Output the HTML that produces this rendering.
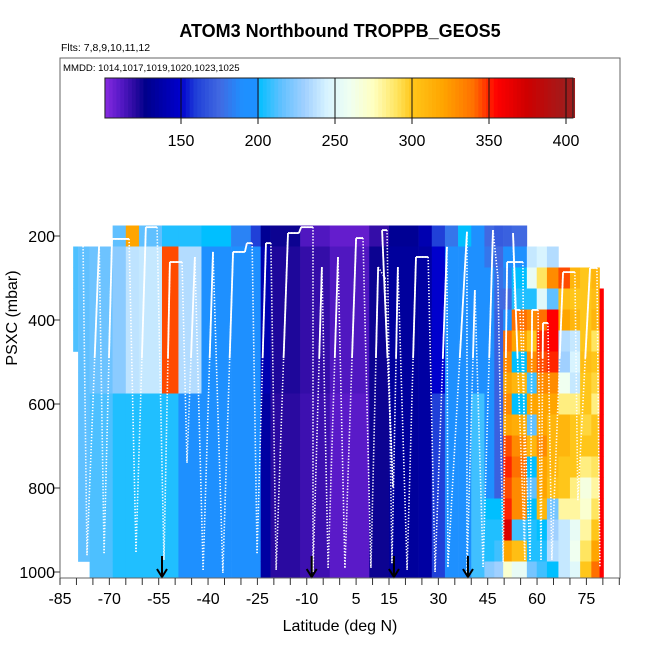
<!DOCTYPE html>
<html><head><meta charset="utf-8"><style>
html,body{margin:0;padding:0;background:#fff;}
svg{display:block;font-family:"Liberation Sans",sans-serif;}
</style></head><body>
<svg id="chart" width="650" height="650" viewBox="0 0 650 650" xmlns="http://www.w3.org/2000/svg">
<text x="340" y="37" text-anchor="middle" font-size="18" font-weight="bold">ATOM3 Northbound TROPPB_GEOS5</text>
<text x="61" y="51" font-size="10.5">Flts: 7,8,9,10,11,12</text>
<defs><clipPath id="plotclip"><rect x="60" y="58" width="560" height="520"/></clipPath>
<clipPath id="solidclip"><rect x="60" y="58" width="560" height="300"/></clipPath></defs>
<g id="cells" clip-path="url(#plotclip)"></g>
<g id="track" clip-path="url(#plotclip)"></g>
<g id="arrows"></g>
<rect x="60" y="58" width="560" height="520" fill="none" stroke="#666" stroke-width="1"/>
<text x="63" y="71" font-size="9.6">MMDD: 1014,1017,1019,1020,1023,1025</text>
<g id="cbar"></g>
<g id="axes"></g>
<text transform="translate(17,318) rotate(-90)" text-anchor="middle" font-size="16">PSXC (mbar)</text>
<text x="340" y="631" text-anchor="middle" font-size="16">Latitude (deg N)</text>
</svg>
<script>
// ---- data ----
const pLevels=[200,250,300,350,400,450,500,550,600,650,700,750,800,850,900,950,1000];
// left/middle segments
const segLat0=[-81,-79.5,-76,-69,-65,-61,-54,-49,-42,-33,-27,-24,-21,-12,-3,9,15,24,28,32,36,40];
const segLat1=[-79.5,-76,-69,-65,-61,-54,-49,-42,-33,-27,-24,-21,-12,-3,9,15,24,28,32,36,40,44];
const segPTop=[250,250,250,200,200,200,200,200,200,200,200,200,200,200,200,200,200,200,200,200,200,200];
const segPBot=[450,950,1000,1000,1000,1000,1000,1000,1000,1000,1000,1000,1000,1000,1000,1000,1000,1000,1000,1000,1000,1000];
const segTop=[210,215,218,215,320,215,205,205,200,185,160,130,125,112,108,118,130,140,160,180,200,190];
const segUpper=[212,215,218,225,238,240,345,235,197,195,192,140,122,118,112,125,133,135,150,190,195,195];
const segLower=[212,215,212,205,205,205,205,198,195,195,190,135,120,116,110,125,133,135,160,192,198,210];
// right cluster columns (full profiles, null = no data)
const colLat0=[44,47,49.7,52.3,56.9,59.9,63,66.5,70,73.1,76.5,79];
const colLat1=[47,49.7,52.3,56.9,59.9,63,66.5,70,73.1,76.5,79,80.2];
const colVals=[
[175,180,190,195,195,195,195,195,195,195,195,195,195,200,205,205,225],
[170,175,178,175,172,172,172,172,172,172,172,172,172,200,205,210,230],
[172,190,185,175,195,340,330,320,330,320,345,350,345,350,370,320,270],
[175,190,200,205,340,320,200,310,200,315,330,340,330,330,210,305,255],
[null,240,255,205,330,300,330,210,320,215,310,200,215,200,205,205,220],
[null,245,290,250,340,350,345,330,320,320,330,320,320,310,200,205,210],
[null,235,330,215,355,355,350,330,320,310,310,310,305,220,230,235,200],
[null,null,345,305,320,235,230,260,285,310,310,300,300,280,240,240,240],
[null,null,310,300,310,240,245,240,285,300,300,300,285,280,255,260,250],
[null,null,300,300,300,300,305,300,300,295,300,285,265,270,280,290,300],
[null,null,310,305,310,290,300,295,285,300,300,290,280,290,300,320,340],
[null,null,null,355,355,355,355,355,355,355,355,355,355,355,355,355,355]];
// flight track (lat, pressure)
const trackLat=[-80.4,-78.0,-76.8,-73.1,-71.6,-69.2,-64.0,-61.9,-58.9,-55.5,-53.4,-51.6,-47.9,-46.4,-44.0,-41.5,-38.5,-35.5,-32.4,-28.8,-28.2,-26.6,-25.1,-22.4,-20.9,-19.3,-15.7,-12.4,-11.7,-8.1,-8.1,-5.4,-3.5,-0.5,1.6,5.0,7.1,9.5,11.7,13.8,16.2,12.9,14.4,15.9,17.7,20.5,23.2,26.9,29.0,32.6,32.9,38.7,38.7,41.1,43.6,46.6,48.1,49.7,50.9,55.7,56.3,52.7,53.3,54.8,57.9,58.5,60.3,61.2,61.8,63.3,64.5,67.9,71.5,72.4,76.1,78.2,79.1];
const trackP=[217,217,960,217,955,207,207,952,179,179,971,262,262,740,250,995,238,1002,238,238,217,217,955,217,217,995,193,193,179,179,1000,274,990,250,990,205,205,990,274,300,798,186,186,979,274,995,250,250,1000,226,988,190,1002,329,988,186,298,976,262,262,971,193,376,376,971,376,376,971,407,407,971,286,286,829,276,276,988];
const arrowLats=[-54,-8.5,16.5,39];
const xTicks=[-85,-70,-55,-40,-25,-10,5,15,30,45,60,75];
const yTicks=[200,400,600,800,1000];
const cbTicks=[150,200,250,300,350,400];
// palette stops
const palV=[100,110,120,127,140,150,160,175,190,199.9,200,215,230,245,260,275,290,300,320,340,355,375,400];
const palC=["#8a2be2","#5a1ac8","#2a0aa0","#00008b","#0000b0","#0000cd","#2040d8","#4169e1","#1e90ff","#1e90ff","#00bfff","#60c0ff","#a0d0ff","#d8f4ff","#f0fff0","#ffffc0","#ffe560","#ffc61a","#ffa500","#ff7000","#ff0000","#cd0000","#a01c1c"];

// ---- scales ----
const NS="http://www.w3.org/2000/svg";
const xS=lat=>60+(lat+85)*3.29;
const yS=p=>236+(p-200)*0.42;
const cbX=v=>181+(v-150)*1.54;
function hex(c){return [1,3,5].map(i=>parseInt(c.substr(i,2),16));}
function color(v){
  if(v<=palV[0])return palC[0];
  for(let i=1;i<palV.length;i++){if(v<=palV[i]){const t=(v-palV[i-1])/(palV[i]-palV[i-1]);const a=hex(palC[i-1]),b=hex(palC[i]);return "rgb("+a.map((x,k)=>Math.round(x+(b[k]-x)*t)).join(",")+")";}}
  return palC[palC.length-1];
}
function mk(tag,attrs,parent){const e=document.createElementNS(NS,tag);for(const k in attrs)e.setAttribute(k,attrs[k]);parent.appendChild(e);return e;}
const cells=document.getElementById('cells');
function cell(l0,l1,p,v){
  const r=mk('rect',{x:xS(l0),y:yS(p-25),width:xS(l1)-xS(l0)+0.3,height:21.3,fill:color(v)},cells);
  
  
}
segLat0.forEach((l0,i)=>{
  pLevels.forEach(p=>{
    if(p<segPTop[i]||p>segPBot[i])return;
    const v=p<=200?segTop[i]:(p<=550?segUpper[i]:segLower[i]);
    cell(l0,segLat1[i],p,v);
  });
});
colLat0.forEach((l0,i)=>{
  pLevels.forEach((p,j)=>{const v=colVals[i][j];if(v==null)return;cell(l0,colLat1[i],p,v);});
});
// track: descending legs dotted; ascending/flat legs dotted + solid upper part
const track=document.getElementById('track');
for(let i=1;i<trackLat.length;i++){
  const x1=xS(trackLat[i-1]),y1=yS(trackP[i-1]),x2=xS(trackLat[i]),y2=yS(trackP[i]);
  const asc=trackP[i]<=trackP[i-1];
  const d=mk('line',{x1:x1,y1:y1,x2:x2,y2:y2,stroke:"#fff","stroke-width":1.6,"stroke-dasharray":"1.3 1.7"},track);
  
  
  if(asc){
    const s=mk('line',{x1:x1,y1:y1,x2:x2,y2:y2,stroke:"#fff","stroke-width":1.8,"clip-path":"url(#solidclip)"},track);
    
    
  }
}
// arrows
const arrows=document.getElementById('arrows');
arrowLats.forEach(l=>{
  const x=xS(l);
  const g=mk('g',{},arrows);
  
  
  mk('line',{x1:x,y1:556,x2:x,y2:576,stroke:"#000","stroke-width":2},g);
  mk('polyline',{points:(x-5)+",569 "+x+",577 "+(x+5)+",569",fill:"none",stroke:"#000","stroke-width":2},g);
});
// axes
const axes=document.getElementById('axes');
for(let l=-85;l<=85;l+=5){
  const t=mk('line',{x1:xS(l),y1:578,x2:xS(l),y2:585,stroke:"#333","stroke-width":1},axes);
  
  
}
xTicks.forEach(l=>{
  const t=mk('text',{x:xS(l),y:604,"text-anchor":"middle","font-size":16},axes);
  t.textContent=l;
  
  
});
yTicks.forEach(p=>{
  const ln=mk('line',{x1:53,y1:yS(p),x2:60,y2:yS(p),stroke:"#333","stroke-width":1},axes);
  
  
  const t=mk('text',{x:55,y:yS(p)+6,"text-anchor":"end","font-size":16},axes);
  t.textContent=p;
  
  
});
// colorbar
const cb=document.getElementById('cbar');
for(let v=100.6;v<404.5;v+=2.5){
  const r=mk('rect',{x:cbX(v),y:78,width:2.5*1.54+0.4,height:40,fill:color(v+1.25)},cb);
  
  
}
mk('rect',{x:cbX(100.6),y:78,width:cbX(404.5)-cbX(100.6),height:40,fill:"none",stroke:"#222","stroke-width":1},cb);
cbTicks.forEach(v=>{
  const ln=mk('line',{x1:cbX(v),y1:78,x2:cbX(v),y2:124,stroke:"#111","stroke-width":1},cb);
  
  
  const t=mk('text',{x:cbX(v),y:146,"text-anchor":"middle","font-size":16},cb);
  t.textContent=v;
  
  
});
</script>
</body></html>
